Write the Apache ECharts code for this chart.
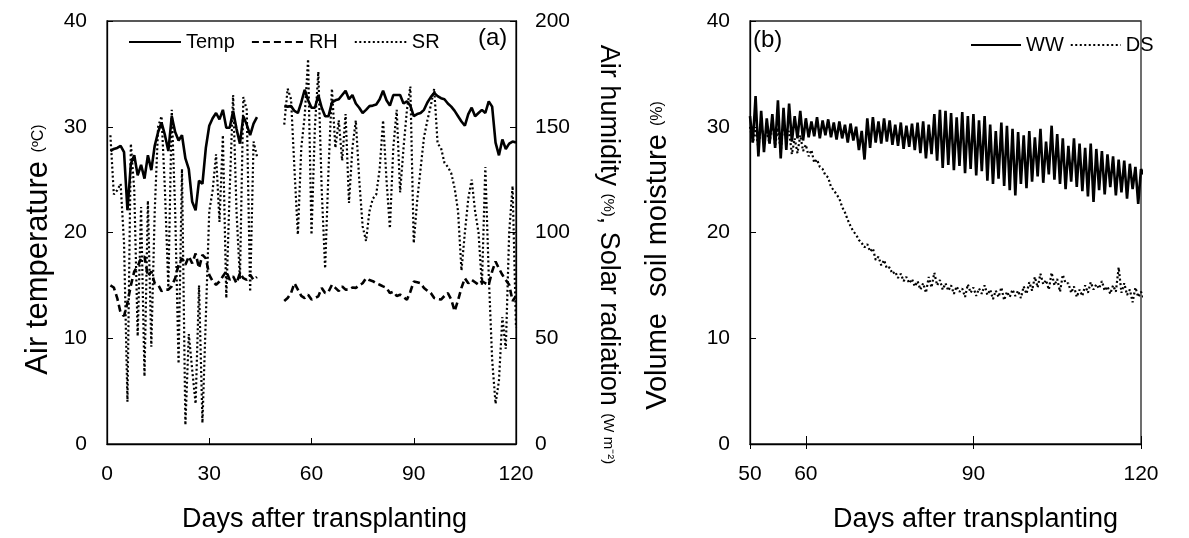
<!DOCTYPE html>
<html>
<head>
<meta charset="utf-8">
<script src="https://cdn.jsdelivr.net/npm/echarts@6/dist/echarts.min.js"></script>
<style>
html,body{margin:0;padding:0;background:#fff;}
#chart{width:1189px;height:538px;}
</style>
</head>
<body>
<div id="chart"></div>
<script>
// ---------- Panel (a): daily weather, days 1..120 (null = no data) ----------
const tempA = [27.7,27.9,28.0,28.2,27.6,22.1,26.5,27.3,25.4,26.4,25.1,27.3,25.9,28.2,29.5,30.4,29.2,27.7,31.0,29.5,
  28.7,29.2,27.0,26.0,22.9,22.1,24.9,24.6,28.0,30.1,30.8,31.3,30.7,31.6,29.9,29.9,31.5,29.8,28.4,31.0,
  30.2,29.2,30.3,30.9,null,null,null,null,null,null,null,31.95,31.9,31.95,31.5,31.3,32.3,33.5,32.5,31.8,
  31.8,33.0,31.8,31.0,31.0,32.3,32.5,32.6,33.0,33.4,32.6,33.0,32.2,31.8,31.3,31.6,31.95,32.0,32.1,32.6,
  33.4,32.5,32.0,33.0,33.0,33.0,32.2,32.4,32.0,31.0,31.2,31.3,31.6,32.3,32.8,33.2,32.9,32.7,32.6,32.2,
  31.9,31.5,31.0,30.5,30.1,31.2,31.8,31.0,31.3,31.6,31.3,32.4,31.9,28.5,27.3,28.8,27.9,28.4,28.6,28.5];
const rhA = [75,74,69,62,60.5,66.7,75,81.6,84,87.8,88.7,79.3,81.6,76,75.3,72.3,73,73,74.6,78.4,
  84.7,87.8,84.7,88.7,85.4,90.1,83.1,89.4,87.8,80,77,75.3,76.8,79.3,81.6,77.6,79.3,76,80.8,78.4,
  77.6,80,77.6,79,null,null,null,null,null,null,null,67.6,69,71.4,76,73,70,69,70.6,68.3,
  69,69.8,73.8,71.4,72,75.3,73.8,72.3,74.5,73,73,74,73.8,75,76,78.4,77.5,77,76,75.3,
  74.5,73.8,71.4,72,70,70.6,69.5,68.2,72,76.8,76.5,76,73.8,72.5,71.4,69,68.5,68.3,70,71.4,
  68.3,62.8,68,73.8,78.4,76,77.6,76.5,75.3,77,76,75.3,81.6,86.3,83,80,77.5,75.3,67.6,70];
const srA = [146,118,120,123,95,20,142,120,51,112,32,115,46,110,150,155,120,74,158,110,
  38,130,9,52,35,19,75,10,60,110,120,137,105,146,69,120,165,110,78,164,
  158,72,143,136,null,null,null,null,null,null,null,151,168,163,130,99,140,155,182,99,
  150,176,120,83,130,168,140,153,134,156,114,140,153,125,103,96,110,116,118,130,
  153,125,102,140,158,119,140,158,169,95,115,130,145,153,160,168,142,140,133,131,
  128,121,110,82,100,116,125,110,100,75,131,80,40,19,30,60,45,100,122,55];
const xTicksA = [0, 30, 60, 90, 120];

// ---------- Panel (b): soil moisture, days 50..120 (two readings per day) ----------
const wwHigh = [31.0,32.9,31.5,30.8,31.2,32.5,31.8,32.2,31.0,31.5,30.8,30.5,30.9,30.6,30.7,30.4,30.5,30.2,30.3,30.0,
  29.6,30.8,30.9,30.5,30.8,30.6,30.2,30.4,30.1,30.3,30.4,30.5,30.2,31.2,31.6,31.5,31.3,30.9,31.4,31.0,
  31.2,30.6,31.0,30.2,29.6,30.4,30.1,29.8,29.5,29.2,29.6,29.0,29.8,28.6,30.1,29.3,28.9,28.2,28.9,28.4,
  28.0,28.4,27.9,27.7,27.4,27.2,26.9,26.8,26.5,26.2,26.0];
const wwLow = [28.5,27.2,27.6,28.4,28.0,27.0,27.8,28.6,28.9,28.7,29.0,29.1,28.9,29.2,29.0,28.8,28.9,28.5,28.7,27.8,
  26.9,28.0,28.5,28.4,28.6,28.3,28.2,27.9,28.1,27.8,27.5,27.0,27.4,26.8,26.1,26.4,25.9,26.3,25.6,26.0,
  25.4,25.8,24.9,24.6,25.1,24.4,24.0,23.5,24.6,24.2,24.8,25.3,24.7,25.5,25.0,24.6,24.1,24.8,24.3,23.9,
  23.4,22.9,24.0,23.6,24.3,23.5,23.8,23.2,24.1,22.7,25.5];
const dsFirst = [30.0,29.8,30.3,29.5,30.6,29.9,30.5,29.6,28.9,29.2,28.3,27.8,26.9,26.0,25.2,24.0,23.2,21.9,20.6,19.8,
  19.0,18.9,18.5,17.7,17.4,16.7,16.3,16.1,15.8,15.6,15.4,15.2,15.8,16.2,15.5,15.2,15.0,14.9,14.7,15.1,
  14.8,14.7,15.0,14.6,14.5,14.8,14.4,14.6,14.5,14.9,15.3,15.8,16.1,15.5,16.2,15.6,16.0,15.2,14.9,14.6,
  15.0,15.3,15.1,15.4,14.9,15.0,16.7,15.2,14.6,14.8,14.4];
const dsSecond = [28.5,28.0,28.9,28.4,28.2,27.6,29.0,27.4,27.5,27.7,27.2,26.6,26.2,25.4,24.3,23.6,22.4,21.2,20.1,19.3,
  18.6,18.2,17.4,16.9,16.6,16.1,15.7,15.4,15.2,14.9,14.6,14.3,14.8,15.0,14.6,14.5,14.2,14.4,13.9,14.3,
  14.0,14.2,14.1,13.7,13.9,13.6,13.9,14.0,13.8,14.2,14.5,14.8,15.1,14.6,15.0,14.4,15.2,14.3,13.9,14.0,
  14.3,14.6,14.7,14.5,14.2,14.4,14.3,14.1,13.4,13.9,13.8];
const firstDayB = 50;
const xTicksB = [50, 60, 90, 120];

// ---------- build data pairs ----------
const pairsA = arr => arr.map((v, i) => [i + 1, v]);
function pairsB(a, b) {
  const out = [];
  a.forEach((v, i) => { out.push([firstDayB + i, v]); out.push([firstDayB + i + 0.5, b[i]]); });
  return out;
}

const FONT = 'Liberation Sans, Arial, sans-serif';
const BLACK = '#000';

const chart = echarts.init(document.getElementById('chart'), null, {renderer: 'canvas'});
const axisCommon = {
  axisLine: {show: true, lineStyle: {color: BLACK, width: 1.3}},
  splitLine: {show: false},
  axisLabel: {color: BLACK, fontSize: 21, fontFamily: FONT, margin: 20},
  nameTextStyle: {color: BLACK, fontFamily: FONT}
};
const legendText = {fontSize: 20, color: BLACK, fontFamily: FONT};

chart.setOption({
  animation: false,
  backgroundColor: '#fff',
  textStyle: {fontFamily: FONT, color: BLACK},
  grid: [
    {left: 107, top: 21, width: 409, height: 426, show: true, borderColor: '#222', borderWidth: 1.3, backgroundColor: 'transparent'},
    {left: 750, top: 21, width: 391, height: 426, show: true, borderColor: '#222', borderWidth: 1.3, backgroundColor: 'transparent'}
  ],
  legend: [
    {data: ['Temp', 'RH', 'SR'], left: 123, top: 27, itemWidth: 52, itemHeight: 14, itemGap: 16,
     itemStyle: {opacity: 0}, textStyle: legendText},
    {data: ['WW', 'DS'], left: 965, top: 30, itemWidth: 50, itemHeight: 14, itemGap: 6,
     itemStyle: {opacity: 0}, textStyle: legendText}
  ],
  graphic: [
    {type: 'text', left: 478, top: 26, style: {text: '(a)', fontSize: 24, fontFamily: FONT, fill: BLACK}},
    {type: 'text', left: 753, top: 28, style: {text: '(b)', fontSize: 24, fontFamily: FONT, fill: BLACK}}
  ],
  xAxis: [
    Object.assign({}, axisCommon, {
      gridIndex: 0, type: 'value', min: 0, max: 120, interval: 30,
      axisTick: {show: true, inside: true, length: 6, lineStyle: {color: BLACK}},
      name: 'Days after transplanting', nameLocation: 'middle', nameGap: 62,
      nameTextStyle: {fontSize: 27, color: BLACK, fontFamily: FONT, padding: [0, 0, 0, 26]}
    }),
    Object.assign({}, axisCommon, {
      gridIndex: 1, type: 'value', min: 50, max: 120,
      axisTick: {show: true, inside: true, length: 8, customValues: xTicksB, lineStyle: {color: BLACK}},
      axisLabel: {color: BLACK, fontSize: 21, fontFamily: FONT, margin: 20, customValues: xTicksB},
      name: 'Days after transplanting', nameLocation: 'middle', nameGap: 62,
      nameTextStyle: {fontSize: 27, color: BLACK, fontFamily: FONT, padding: [0, 0, 0, 60]}
    }),
    {
      gridIndex: 1, type: 'value', min: 50, max: 120, position: 'bottom',
      axisLine: {show: false}, splitLine: {show: false}, axisLabel: {show: false},
      axisTick: {show: true, inside: false, length: 5, customValues: xTicksB, lineStyle: {color: BLACK}}
    }
  ],
  yAxis: [
    Object.assign({}, axisCommon, {
      gridIndex: 0, type: 'value', min: 0, max: 40, interval: 10,
      axisTick: {show: true, inside: true, length: 6, lineStyle: {color: BLACK}},
      name: '{a|Air temperature }{b|(ºC)}', nameLocation: 'middle', nameGap: 53, nameRotate: 90,
      nameTextStyle: {color: BLACK, fontFamily: FONT, padding: [0, 34, 0, 0],
        rich: {a: {fontSize: 31, fontFamily: FONT}, b: {fontSize: 16, fontFamily: FONT}}}
    }),
    Object.assign({}, axisCommon, {
      gridIndex: 0, type: 'value', position: 'right', min: 0, max: 200, interval: 50,
      axisTick: {show: true, inside: true, length: 6, lineStyle: {color: BLACK}},
      axisLabel: {color: BLACK, fontSize: 21, fontFamily: FONT, margin: 19},
      name: '{a|Air humidity }{b|(%)}{a|, Solar radiation }{b|(W m⁻²)}', nameLocation: 'middle', nameGap: 79, nameRotate: -90,
      nameTextStyle: {color: BLACK, fontFamily: FONT, padding: [0, 0, 0, 44],
        rich: {a: {fontSize: 27, fontFamily: FONT}, b: {fontSize: 15, fontFamily: FONT}}}
    }),
    Object.assign({}, axisCommon, {
      gridIndex: 1, type: 'value', min: 0, max: 40, interval: 10,
      axisTick: {show: true, inside: true, length: 6, lineStyle: {color: BLACK}},
      name: '{a|Volume  soil moisture }{b|(%)}', nameLocation: 'middle', nameGap: 78, nameRotate: 90,
      nameTextStyle: {color: BLACK, fontFamily: FONT, padding: [0, 46, 0, 0],
        rich: {a: {fontSize: 29, fontFamily: FONT}, b: {fontSize: 16, fontFamily: FONT}}}
    })
  ],
  series: [
    {name: 'Temp', type: 'line', xAxisIndex: 0, yAxisIndex: 0, data: pairsA(tempA), symbol: 'none',
     connectNulls: false, z: 4, lineStyle: {color: BLACK, width: 2.6}, itemStyle: {color: BLACK}},
    {name: 'RH', type: 'line', xAxisIndex: 0, yAxisIndex: 1, data: pairsA(rhA), symbol: 'none',
     connectNulls: false, z: 3, lineStyle: {color: BLACK, width: 2.6, type: [7, 4]}, itemStyle: {color: BLACK}},
    {name: 'SR', type: 'line', xAxisIndex: 0, yAxisIndex: 1, data: pairsA(srA), symbol: 'none',
     connectNulls: false, z: 2, lineStyle: {color: BLACK, width: 2.2, type: [2, 2.5]}, itemStyle: {color: BLACK}},
    {name: 'WW', type: 'line', xAxisIndex: 1, yAxisIndex: 2, data: pairsB(wwHigh, wwLow), symbol: 'none',
     z: 4, lineStyle: {color: BLACK, width: 2.6}, itemStyle: {color: BLACK}},
    {name: 'DS', type: 'line', xAxisIndex: 1, yAxisIndex: 2, data: pairsB(dsFirst, dsSecond), symbol: 'none',
     z: 3, lineStyle: {color: BLACK, width: 2.2, type: [2, 2.5]}, itemStyle: {color: BLACK}}
  ]
});
</script>
</body>
</html>
